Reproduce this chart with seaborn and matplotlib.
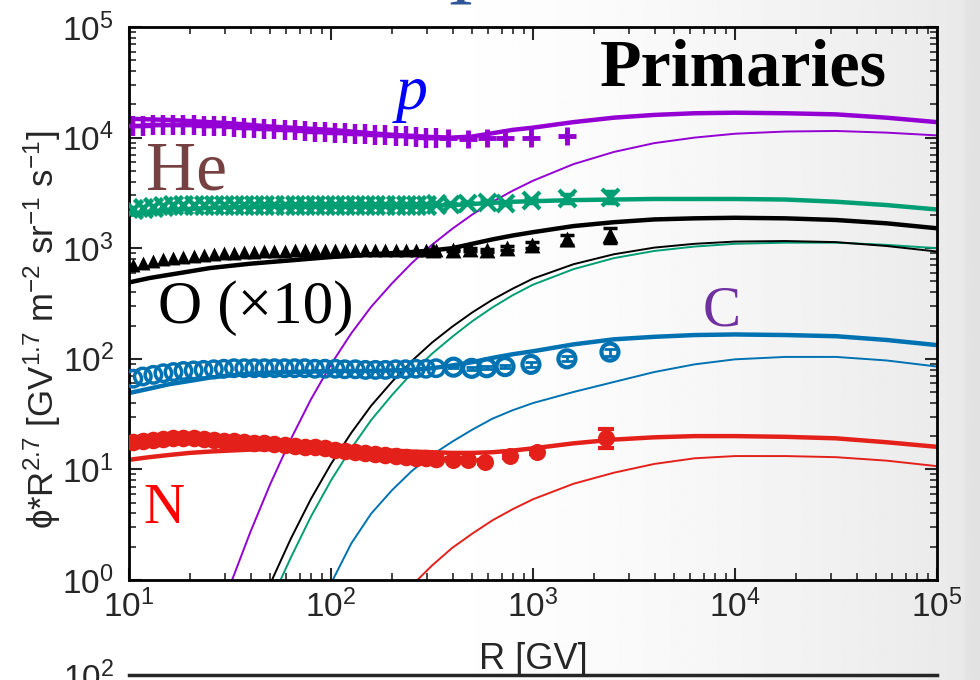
import numpy as np
import matplotlib
matplotlib.use("Agg")
import matplotlib.pyplot as plt
import seaborn as sns
from matplotlib.ticker import LogLocator, NullFormatter, LogFormatterSciNotation, FixedLocator

# ---------------- data ----------------
# model curves: common rigidity grid
R_line = [10, 12.6, 15.8, 20.0, 25.1, 31.6, 39.8, 50.1, 63.1, 79.4, 100, 126, 158, 200, 251,
          316, 398, 501, 631, 794, 1000, 1585, 2512, 3981, 6310, 10000, 17783, 31623, 56234, 100000]

p_total = [14790, 14620, 14450, 14130, 13800, 13490, 13030, 12590, 12300, 12020, 11750, 11350, 10960,
           10590, 10350, 10120, 10000, 10230, 10960, 11750, 12300, 13800, 15140, 16030, 16600, 16790,
           16600, 16220, 15140, 13800]
p_comp = [0.89, 2.69, 7.41, 18.6, 42.7, 89.1, 170, 295, 479, 733, 1072, 1496, 2018, 2630, 3311, 4074,
          5754, 7413, 8913, 10000, 10840, 11350, 11480, 11090, 10470]

he_total = [1995, 2089, 2188, 2265, 2317, 2344, 2371, 2399, 2399, 2427, 2427, 2427, 2427, 2427, 2427,
            2427, 2455, 2512, 2570, 2630, 2661, 2723, 2754, 2786, 2786, 2786, 2754, 2630, 2455, 2239]
he_comp = [0.63, 1.58, 3.72, 7.94, 15.5, 27.9, 46.8, 74.1, 111, 158, 219, 292, 376, 468, 646, 813,
           944, 1035, 1096, 1122, 1122, 1072, 1000]

o_total = [490, 537, 575, 617, 661, 692, 724, 750, 776, 804, 832, 851, 881, 902, 923, 955, 1000, 1096,
           1202, 1303, 1396, 1585, 1718, 1820, 1862, 1884, 1862, 1799, 1679, 1514]
o_comp = [0.93, 2.34, 5.37, 11.2, 21.4, 37.6, 61.7, 95.5, 140, 195, 263, 343, 431, 531, 716, 881,
          1012, 1096, 1148, 1161, 1135, 1047, 933]

c_total = [49.0, 53.7, 58.9, 63.1, 67.6, 70.8, 73.3, 75.0, 75.9, 76.7, 77.6, 77.6, 77.6, 78.5, 79.4,
           82.2, 87.1, 93.3, 102, 110, 117, 135, 150, 158, 164, 166, 164, 160, 148, 133]
c_comp = [0.93, 2.14, 3.98, 6.46, 9.66, 13.5, 17.8, 22.9, 28.8, 34.3, 39.8, 50.1, 61.7, 75.9, 89.1,
          98.9, 104, 104, 96.6, 85.1]

n_total = [12.2, 12.9, 13.5, 14.1, 14.5, 14.8, 15.1, 15.3, 15.5, 15.5, 15.5, 15.3, 15.1, 14.8, 14.5,
           14.3, 14.1, 14.1, 14.3, 14.8, 15.5, 17.2, 18.6, 19.5, 20.0, 20.0, 19.7, 19.1, 17.6, 16.0]
n_comp = [0.89, 1.35, 1.95, 2.63, 3.47, 4.37, 5.37, 7.41, 9.33, 11.2, 12.6, 13.2, 13.2, 12.9, 12.0, 10.7]

# measured points: dense low-rigidity bins
R_data = [10.5, 11.7, 13.2, 14.8, 16.6, 18.6, 20.9, 23.4, 26.3, 29.5, 33.1, 37.2, 41.7, 46.8, 52.5,
          58.9, 66.1, 74.1, 83.2, 93.3, 105, 117, 132, 148, 166, 186, 209, 234, 263, 295, 331]
p_data = [12600, 12700, 12900, 12900, 12900, 12900, 12900, 12700, 12600, 12600, 12450, 12300, 12150,
          12000, 11900, 11750, 11600, 11500, 11350, 11200, 11100, 10950, 10850, 10700, 10600, 10450,
          10350, 10250, 10100, 10000, 10000]
he_data = [2240, 2320, 2370, 2420, 2450, 2470, 2480, 2480, 2480, 2480, 2480, 2480, 2480, 2470, 2470,
           2460, 2460, 2450, 2450, 2450, 2450, 2450, 2450, 2450, 2450, 2460, 2460, 2470, 2470, 2480, 2490]
o_data = [708, 741, 767, 794, 813, 832, 851, 871, 891, 902, 912, 923, 933, 940, 944, 950, 955, 955,
          960, 960, 960, 965, 965, 965, 966, 966, 970, 970, 970, 970, 970]
c_data = [66.1, 69.2, 71.6, 74.1, 75.9, 77.6, 78.5, 79.4, 80.4, 81.3, 82.2, 82.2, 82.2, 82.2, 82.2,
          82.2, 82.2, 82.2, 81.3, 81.3, 81.3, 80.4, 80.4, 79.4, 79.4, 79.4, 80.4, 80.4, 81.3, 81.3, 82.2]
n_data = [17.8, 18.2, 18.6, 18.8, 19.1, 19.1, 19.1, 18.8, 18.6, 18.2, 18.0, 17.8, 17.4, 17.2, 16.8,
          16.6, 16.2, 16.0, 15.8, 15.5, 15.1, 14.8, 14.5, 14.1, 13.8, 13.5, 13.2, 12.9, 12.7, 12.6, 12.4]

# measured points: sparse high-rigidity bins with errors
p_hiR = [380, 479, 589, 724, 977, 1479]
p_hi = [9900, 9700, 9950, 10000, 10000, 10250]
p_err = [200, 250, 300, 400, 500, 900]
he_hiR = [390, 470, 589, 724, 977, 1479, 2400]
he_hi = [2500, 2570, 2630, 2540, 2700, 2820, 2920]
he_err = [40, 50, 70, 90, 130, 250, 380]
o_hiR = [320, 402, 488, 592, 743, 989, 1472, 2404]
o_hi = [955, 955, 977, 955, 1000, 1070, 1200, 1320]
o_err = [15, 20, 25, 30, 45, 70, 130, 200]
c_hiR = [404, 497, 590, 727, 977, 1472, 2404]
c_hi = [84, 82, 83, 85, 89, 100, 115]
c_err = [1.5, 2, 2.5, 3, 4, 5, 8]
n_hiR = [402, 476, 578, 769, 1047, 2291]
n_hi = [12.2, 12.2, 11.7, 13.2, 14.5, 19.3]
n_err = [0.4, 0.4, 0.5, 0.6, 0.8, 3.8]

# ---------------- style ----------------
sns.set_theme(style="ticks")
plt.rcParams["font.family"] = ["Liberation Sans", "DejaVu Sans"]
plt.rcParams["mathtext.default"] = "regular"

PURPLE = "#9400D3"
GREEN = "#009E73"
BLACK = "#000000"
BLUE = "#0072B2"
RED = "#E3211A"
SERIF = ["Liberation Serif", "DejaVu Serif"]

fig = plt.figure(figsize=(9.8, 6.8), dpi=100)
fig.patch.set_facecolor("white")

# background gradient
bg = fig.add_axes([0, 0, 1, 1], zorder=-10)
xx = np.linspace(0, 1, 500)
g = 1 - 0.09 * np.clip((xx - 0.40) / 0.60, 0, 1) ** 1.6
g = np.where(xx > 0.985, g - 0.025, g)
bg.imshow(np.tile(g, (10, 1)), extent=[0, 1, 0, 1], aspect="auto", cmap="gray", vmin=0, vmax=1)
bg.axis("off")

ax = fig.add_axes([129 / 980, 1 - 580 / 680, (937 - 129) / 980, (580 - 27) / 680])
ax.set_facecolor("none")
ax.set_xscale("log")
ax.set_yscale("log")

series = [
    (p_total, p_comp, PURPLE),
    (he_total, he_comp, GREEN),
    (o_total, o_comp, BLACK),
    (c_total, c_comp, BLUE),
    (n_total, n_comp, RED),
]
for tot, comp, col in series:
    sns.lineplot(x=R_line, y=tot, color=col, linewidth=3.2, ax=ax, sort=False,
                 estimator=None, legend=False, zorder=2)
    sns.lineplot(x=R_line[-len(comp):], y=comp, color=col, linewidth=1.4, ax=ax, sort=False,
                 estimator=None, legend=False, zorder=2)

# data points
sns.scatterplot(x=R_data, y=p_data, marker="+", s=200, linewidth=3.2, color=PURPLE, ax=ax, legend=False, zorder=3)
sns.scatterplot(x=p_hiR, y=p_hi, marker="+", s=160, linewidth=3.5, color=PURPLE, ax=ax, legend=False, zorder=3)
ax.errorbar(p_hiR, p_hi, yerr=p_err, fmt="none", ecolor=PURPLE, elinewidth=3, capsize=0, zorder=3)

sns.scatterplot(x=R_data, y=he_data, marker="x", s=170, linewidth=3.2, color=GREEN, ax=ax, legend=False, zorder=3)
sns.scatterplot(x=he_hiR, y=he_hi, marker="x", s=150, linewidth=3, color=GREEN, ax=ax, legend=False, zorder=3)
ax.errorbar(he_hiR, he_hi, yerr=he_err, fmt="none", ecolor=GREEN, elinewidth=2, capsize=5, capthick=2.5, zorder=3)

sns.scatterplot(x=R_data, y=o_data, marker="^", s=100, linewidth=0, color=BLACK, ax=ax, legend=False, zorder=3)
sns.scatterplot(x=o_hiR, y=o_hi, marker="^", s=130, linewidth=0, color=BLACK, ax=ax, legend=False, zorder=3)
ax.errorbar(o_hiR, o_hi, yerr=o_err, fmt="none", ecolor=BLACK, elinewidth=2, capsize=5, capthick=2.5, zorder=3)

sns.scatterplot(x=R_data, y=c_data, marker="o", s=140, linewidth=2.5, facecolor="none", edgecolor=BLUE,
                ax=ax, legend=False, zorder=3)
sns.scatterplot(x=c_hiR, y=c_hi, marker="o", s=150, linewidth=3, facecolor="none", edgecolor=BLUE,
                ax=ax, legend=False, zorder=3)
ax.errorbar(c_hiR, c_hi, yerr=c_err, fmt="none", ecolor=BLUE, elinewidth=2, capsize=4, capthick=2, zorder=3)

sns.scatterplot(x=R_data, y=n_data, marker="o", s=160, linewidth=0, color=RED, ax=ax, legend=False, zorder=3)
sns.scatterplot(x=n_hiR, y=n_hi, marker="o", s=150, linewidth=0, color=RED, ax=ax, legend=False, zorder=3)
ax.errorbar(n_hiR, n_hi, yerr=n_err, fmt="none", ecolor=RED, elinewidth=2.5, capsize=6, capthick=3, zorder=3)

ax.set_xlim(10, 1e5)
ax.set_ylim(1, 1e5)

for a in (ax.xaxis, ax.yaxis):
    a.set_major_locator(LogLocator(base=10, numticks=20))
    a.set_minor_locator(LogLocator(base=10, subs=np.arange(2, 10), numticks=100))
    a.set_minor_formatter(NullFormatter())
    a.set_major_formatter(LogFormatterSciNotation())
ax.tick_params(which="major", direction="in", length=9, width=1.5, top=True, right=True, labelsize=24)
ax.tick_params(which="minor", direction="in", length=5, width=1.2, top=True, right=True)
ax.tick_params(axis="y", which="major", pad=11)
ax.tick_params(axis="x", which="major", pad=7)
for s in ax.spines.values():
    s.set_linewidth(2)
    s.set_color("black")

ax.set_xlabel("R [GV]", fontsize=26)
ax.xaxis.set_label_coords(0.5, -0.112)
ax.set_ylabel("ϕ*R$^{2.7}$ [GV$^{1.7}$ m$^{-2}$ sr$^{-1}$ s$^{-1}$]", fontsize=25)
ax.yaxis.set_label_coords(-0.082, 0.452)

# annotations
ax.text(0.350, 0.852, "p", fontsize=46, style="italic", family=SERIF, color="#0000FF",
        ha="center", va="baseline", transform=ax.transAxes)
ax.text(0.7605, 0.895, "Primaries", fontsize=49, weight="bold", family=SERIF, color="black",
        ha="center", va="baseline", transform=ax.transAxes)
ax.text(0.0205, 0.706, "He", fontsize=50, family=SERIF, color="#774141",
        ha="left", va="baseline", transform=ax.transAxes)
ax.text(0.036, 0.4647, "O (×10)", fontsize=44, family=SERIF, color="black",
        ha="left", va="baseline", transform=ax.transAxes)
ax.text(0.734, 0.461, "C", fontsize=41, family=SERIF, color="#7030A0",
        ha="center", va="baseline", transform=ax.transAxes)
ax.text(0.018, 0.103, "N", fontsize=41, family=SERIF, color="#FF0000",
        ha="left", va="baseline", transform=ax.transAxes)

# cut-off panel below and element above (as in the source screenshot)
ax2 = fig.add_axes([129 / 980, -0.4, (937 - 129) / 980, 0.4 + 5 / 680])
ax2.set_facecolor("none")
ax2.set_yscale("log")
ax2.set_ylim(1, 100)
ax2.yaxis.set_major_locator(FixedLocator([100]))
ax2.yaxis.set_minor_locator(FixedLocator([]))
ax2.yaxis.set_major_formatter(LogFormatterSciNotation())
ax2.set_xticks([])
ax2.tick_params(axis="y", direction="in", length=0, labelsize=24, pad=11)
for name, s in ax2.spines.items():
    s.set_linewidth(2.5)
    s.set_visible(name == "top")
fig.text(460 / 980, 1 - 4 / 680, "I", fontsize=56, family=SERIF, color="#2F5597",
         ha="center", va="baseline")

fig.savefig("out.png", dpi=100)
